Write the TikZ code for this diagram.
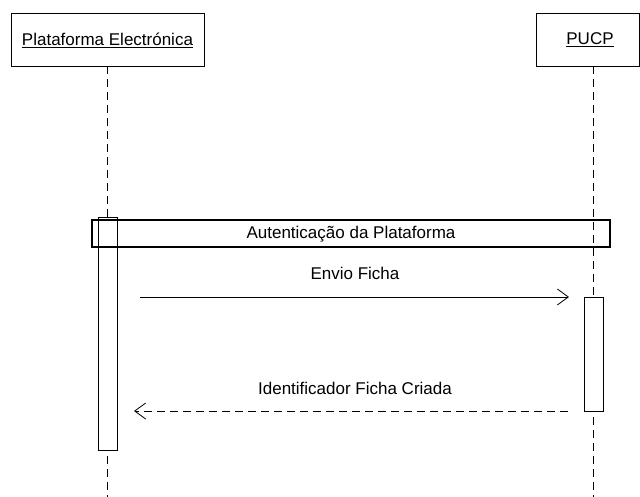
\documentclass[tikz,border=0pt]{standalone}
\usepackage{fontspec}
\setmainfont{Liberation Sans}
\usetikzlibrary{arrows.meta}
\begin{document}
\begin{tikzpicture}[x=1pt,y=-1pt,
  lbl/.style={font=\fontsize{17}{20}\selectfont, inner sep=0pt},
  obj/.style={draw, line width=0.8pt},
  lifeline/.style={line width=0.8pt, dash pattern=on 8pt off 5pt},
  act/.style={draw, fill=white, line width=0.8pt},
  msg/.style={line width=0.8pt, -{Straight Barb[length=11pt,width=16pt,line width=0.8pt]}},
  ret/.style={msg, dash pattern=on 8pt off 5pt}]
\useasboundingbox (0,0) rectangle (640,497);
% objects
\draw[obj] (11,13) rectangle (204,66);
\node[lbl] (pe) at (107.5,40) {\underline{Plataforma Electrónica}};
\draw[obj] (536,13) rectangle (639,66);
\node[lbl] (pucp) at (590,40) {\underline{PUCP}};
\coordinate (pebot) at (107,66);
\coordinate (pucpbot) at (593,66);
\coordinate (peend) at (107,497);
\coordinate (pucpend) at (593,497);
% lifelines
\draw[lifeline] (pebot) -- (peend);
\draw[lifeline] (pucpbot) -- (pucpend);
% activation bars
\draw[act] (98,217) rectangle (117,450);
\draw[act] (584,297) rectangle (603,411);
% frame
\draw[line width=1.1pt] (92,220) rectangle (610,247);
\draw[line width=0.8pt] (98,220) -- (98,247) (117,220) -- (117,247);
\node[lbl] (auth) at (351,234) {Autenticação da Plataforma};
% messages
\coordinate (m1s) at (140,297);
\coordinate (m1e) at (569,297);
\draw[msg] (m1s) -- (m1e);
\node[lbl] (l1) at (355,273) {Envio Ficha};
\coordinate (m2s) at (568,411);
\coordinate (m2e) at (134,411);
\draw[ret] (m2s) -- (m2e);
\node[lbl] (l2) at (355,388) {Identificador Ficha Criada};
\end{tikzpicture}
\end{document}
